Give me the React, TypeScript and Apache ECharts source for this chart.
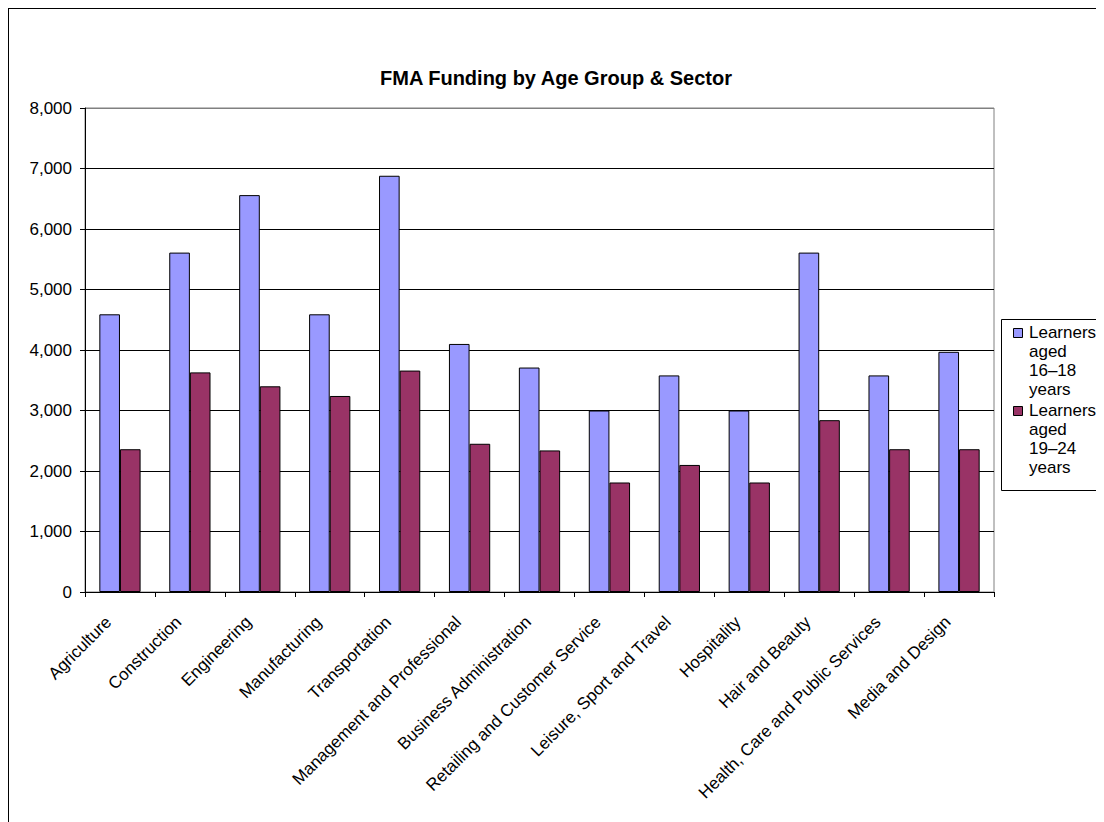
import React, { useEffect, useRef } from "react";
import * as echarts from "echarts";

const categories = [
  "Agriculture",
  "Construction",
  "Engineering",
  "Manufacturing",
  "Transportation",
  "Management and Professional",
  "Business Administration",
  "Retailing and Customer Service",
  "Leisure, Sport and Travel",
  "Hospitality",
  "Hair and Beauty",
  "Health, Care and Public Services",
  "Media and Design",
];

const seriesNames = ["Learners aged 16–18 years", "Learners aged 19–24 years"];

const aged16to18 = [4590, 5610, 6560, 4590, 6880, 4100, 3710, 3000, 3580, 3000, 5610, 3580, 3970];
const aged19to24 = [2360, 3630, 3400, 3240, 3660, 2450, 2340, 1810, 2100, 1810, 2840, 2360, 2360];

const yTicks = { min: 0, max: 8000, interval: 1000 };

const colors = ["#9999FF", "#993366"];
const FONT = "'Liberation Sans', Arial, sans-serif";

export default function App() {
  const ref = useRef<HTMLDivElement>(null);
  useEffect(() => {
    if (!ref.current) return;
    const chart = echarts.init(ref.current, undefined, { renderer: "svg" });
    const legendItems: any[] = [];
    seriesNames.forEach((name, i) => {
      const top = 315 + i * 78;
      legendItems.push({
        type: "rect",
        shape: { x: 1005.5, y: top + 5.5, width: 9, height: 9 },
        style: { fill: colors[i], stroke: "#000", lineWidth: 1 },
      });
      legendItems.push({
        type: "text",
        x: 1021,
        y: top,
        style: {
          text: name.split(" ").join("\n"),
          fontSize: 17,
          fontFamily: FONT,
          fill: "#000",
          lineHeight: 19,
          verticalAlign: "top",
          align: "left",
        },
      });
    });
    const splitColors = Array.from({ length: 9 }, (_, i) => (i === 8 ? "#808080" : "#000"));
    chart.setOption({
      animation: false,
      backgroundColor: "#fff",
      textStyle: { fontFamily: FONT },
      title: {
        text: "FMA Funding by Age Group & Sector",
        left: "center",
        top: 55,
        textStyle: { fontSize: 20, fontWeight: "bold", color: "#000", fontFamily: FONT },
      },
      grid: {
        left: 77,
        top: 100,
        right: 110,
        bottom: 230,
        show: true,
        borderColor: "#808080",
        borderWidth: 1,
        backgroundColor: "#fff",
      },
      xAxis: {
        type: "category",
        data: categories,
        boundaryGap: true,
        axisLine: { lineStyle: { color: "#000", width: 1 } },
        axisTick: { show: true, length: 5, lineStyle: { color: "#000" } },
        axisLabel: {
          interval: 0,
          rotate: 45,
          fontSize: 17,
          color: "#000",
          fontFamily: FONT,
          margin: 16,
          padding: [0, 16, 0, 0],
        },
      },
      yAxis: {
        type: "value",
        min: yTicks.min,
        max: yTicks.max,
        interval: yTicks.interval,
        axisLine: { show: true, lineStyle: { color: "#000", width: 1 } },
        axisTick: { show: true, length: 5, lineStyle: { color: "#000" } },
        axisLabel: {
          fontSize: 17,
          color: "#000",
          fontFamily: FONT,
          margin: 13,
          formatter: (v: number) => v.toLocaleString("en-US"),
        },
        splitLine: { show: true, lineStyle: { color: splitColors, width: 1 } },
      },
      series: [
        {
          name: seriesNames[0],
          type: "bar",
          data: aged16to18,
          barGap: "0%",
          barCategoryGap: "41%",
          itemStyle: { color: colors[0], borderColor: "#000", borderWidth: 1 },
        },
        {
          name: seriesNames[1],
          type: "bar",
          data: aged19to24,
          barGap: "0%",
          barCategoryGap: "41%",
          itemStyle: { color: colors[1], borderColor: "#000", borderWidth: 1 },
        },
      ],
      graphic: [
        {
          type: "line",
          shape: { x1: 0.5, y1: 0, x2: 0.5, y2: 814 },
          style: { stroke: "#000", lineWidth: 1 },
        },
        {
          type: "line",
          shape: { x1: 0, y1: 0.5, x2: 1096, y2: 0.5 },
          style: { stroke: "#000", lineWidth: 1 },
        },
        {
          type: "rect",
          shape: { x: 993.5, y: 311.5, width: 200, height: 171 },
          style: { fill: "#fff", stroke: "#000", lineWidth: 1 },
        },
        ...legendItems,
      ],
    });
    return () => chart.dispose();
  }, []);
  return <div ref={ref} style={{ width: 1096, height: 814 }} />;
}
